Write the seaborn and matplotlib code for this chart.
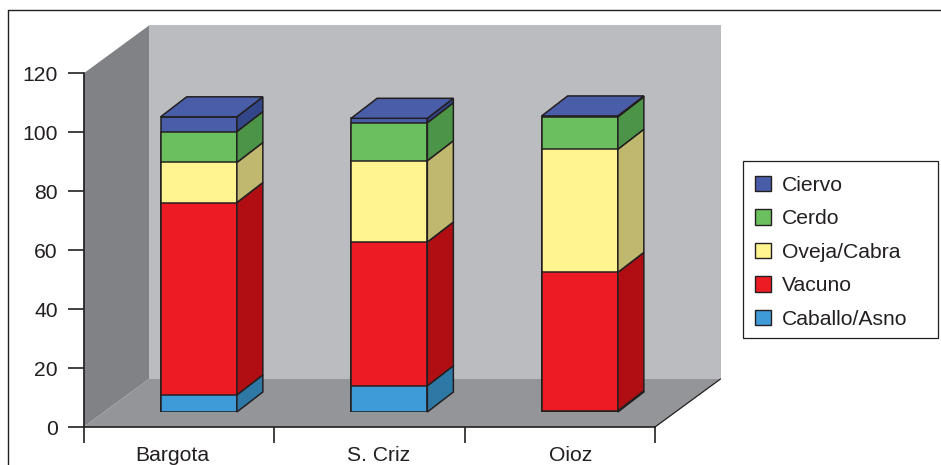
import pandas as pd
import matplotlib
matplotlib.use('Agg')
import matplotlib.pyplot as plt
from matplotlib.lines import Line2D
from matplotlib.patches import Patch, Rectangle, Polygon
import seaborn as sns

# Values
sites = ['Bargota', 'S. Criz', 'Oioz']
caballo = [5.8, 8.9, 0.4]
vacuno = [65.3, 48.8, 47.0]
oveja = [13.6, 27.6, 41.8]
cerdo = [10.5, 12.9, 11.0]
ciervo = [5.0, 1.5, 0.3]
y_ticks = [0, 20, 40, 60, 80, 100, 120]

species = ['Caballo/Asno', 'Vacuno', 'Oveja/Cabra', 'Cerdo', 'Ciervo']
series = [caballo, vacuno, oveja, cerdo, ciervo]
front_colors = ['#3F9BD7', '#ED1C24', '#FFF48F', '#6CBF5E', '#4A5DA8']
side_colors = ['#2E78A6', '#B10E14', '#BFB86E', '#4C9447', '#34468A']

INK = '#231F20'
W, H = 941, 465
FONT = 15.2

sns.set_style('white')
plt.rcParams['font.family'] = ['Liberation Sans', 'DejaVu Sans']
plt.rcParams['font.size'] = FONT

# stacked values, long form
rows = []
for i, site in enumerate(sites):
    total = 0
    for name, vals in zip(species, series):
        rows.append({'site': site, 'species': name, 'bottom': total, 'top': total + vals[i]})
        total += vals[i]
df = pd.DataFrame(rows)

fig = plt.figure(figsize=(W / 100, H / 100), dpi=100)

# axes in pixels of the picture
left, right, base, top = 83.5, 655, 427, 73.5
ax = fig.add_axes([left / W, (H - base) / H, (right - left) / W, (base - top) / H])
# second axes is the plane where the bars stand, further back in depth
shift_x, shift_y = 20, 15
bars_ax = fig.add_axes([(left + shift_x) / W, (H - base + shift_y) / H, (right - left) / W, (base - top) / H])
bars_ax.patch.set_alpha(0)

for a in (ax, bars_ax):
    a.set_xlim(-0.5, 2.5)
    a.set_ylim(0, 120)

px_x = (right - left) / 3
px_y = (base - top) / 120

# walls and floor
wall_dx = 65.5 / px_x
wall_dy = 48 / px_y
ax.add_patch(Polygon([(-0.5 + wall_dx, wall_dy), (2.5 + wall_dx, wall_dy), (2.5 + wall_dx, 120 + wall_dy),
                      (-0.5 + wall_dx, 120 + wall_dy)], fc='#BBBCBF', ec='none', clip_on=False, zorder=1))
ax.add_patch(Polygon([(-0.5, 0), (-0.5 + wall_dx, wall_dy), (-0.5 + wall_dx, 120 + wall_dy), (-0.5, 120)],
                     fc='#808285', ec='none', clip_on=False, zorder=1.1))
ax.add_patch(Polygon([(-0.5, 0), (2.5, 0), (2.5 + wall_dx, wall_dy), (-0.5 + wall_dx, wall_dy)],
                     fc='#939598', ec='none', clip_on=False, zorder=1.1))
ax.plot([2.5, 2.5 + wall_dx], [0, wall_dy], color=INK, lw=0.9, clip_on=False, zorder=1.2)

# bar fronts, tallest stack first so the lower ones cover it
bar_w = 0.4
sns.barplot(data=df, x='site', y='top', hue='species', order=sites, hue_order=species[::-1],
            palette=dict(zip(species, front_colors)), dodge=False, width=bar_w, saturation=1,
            edgecolor=INK, linewidth=1.1, legend=False, ax=bars_ax, zorder=3)

# bar sides and tops
bar_dx = 26 / px_x
bar_dy = 20 / px_y
for _, r in df.iterrows():
    i = sites.index(r['site'])
    k = species.index(r['species'])
    x1 = i + bar_w / 2
    bars_ax.fill([x1, x1 + bar_dx, x1 + bar_dx, x1],
                 [r['bottom'], r['bottom'] + bar_dy, r['top'] + bar_dy, r['top']],
                 fc=side_colors[k], ec=INK, lw=1.1, clip_on=False, zorder=3)
    if k == len(species) - 1:
        x0 = i - bar_w / 2
        bars_ax.fill([x0, x1, x1 + bar_dx, x0 + bar_dx],
                     [r['top'], r['top'], r['top'] + bar_dy, r['top'] + bar_dy],
                     fc=front_colors[k], ec=INK, lw=1.1, clip_on=False, zorder=3)

bars_ax.set_xlim(-0.5, 2.5)
bars_ax.set_ylim(0, 120)
bars_ax.axis('off')

# axis lines and ticks
for s in ['top', 'right']:
    ax.spines[s].set_visible(False)
for s in ['left', 'bottom']:
    ax.spines[s].set_visible(True)
    ax.spines[s].set_color(INK)
    ax.spines[s].set_linewidth(1.2)
    ax.spines[s].set_zorder(5)
ax.set_yticks(y_ticks)
ax.set_xticks([-0.5, 0.5, 1.5, 2.5])
ax.set_xticklabels([])
ax.set_xlabel('')
ax.set_ylabel('')
ax.tick_params(axis='both', which='major', left=True, bottom=True, length=11.5, width=1.2, color=INK,
               labelcolor=INK, labelsize=FONT)
ax.tick_params(axis='y', pad=7)

# the site names do not sit centred in the reference
label_nudge = [-6, 9, 11]
for i, site in enumerate(sites):
    ax.text(i + label_nudge[i] / px_x, -34 / px_y, site, ha='center', va='baseline',
            color=INK, fontsize=FONT, clip_on=False)

# frame, only top and left are in the picture
fig.add_artist(Line2D([8 / W, 8 / W], [0, (H - 10.5) / H], color=INK, lw=1.0))
fig.add_artist(Line2D([8 / W, 1], [(H - 10.5) / H, (H - 10.5) / H], color=INK, lw=1.0))

# legend
fig.add_artist(Rectangle((743 / W, (H - 338) / H), 195 / W, 177.5 / H, transform=fig.transFigure,
                         fc='white', ec=INK, lw=0.9, zorder=4))
handles = [Patch(fc=c, ec=INK, lw=1.0, label=n) for c, n in zip(front_colors, species)][::-1]
leg = fig.legend(handles=handles, loc='upper left', bbox_to_anchor=(754.5 / W, (H - 175.5) / H), frameon=False,
                 borderpad=0, borderaxespad=0, handlelength=0.76, handleheight=0.76, handletextpad=0.55,
                 labelspacing=0.68, fontsize=FONT, labelcolor=INK)
leg.set_zorder(5)

plt.savefig('out.png', dpi=100)
